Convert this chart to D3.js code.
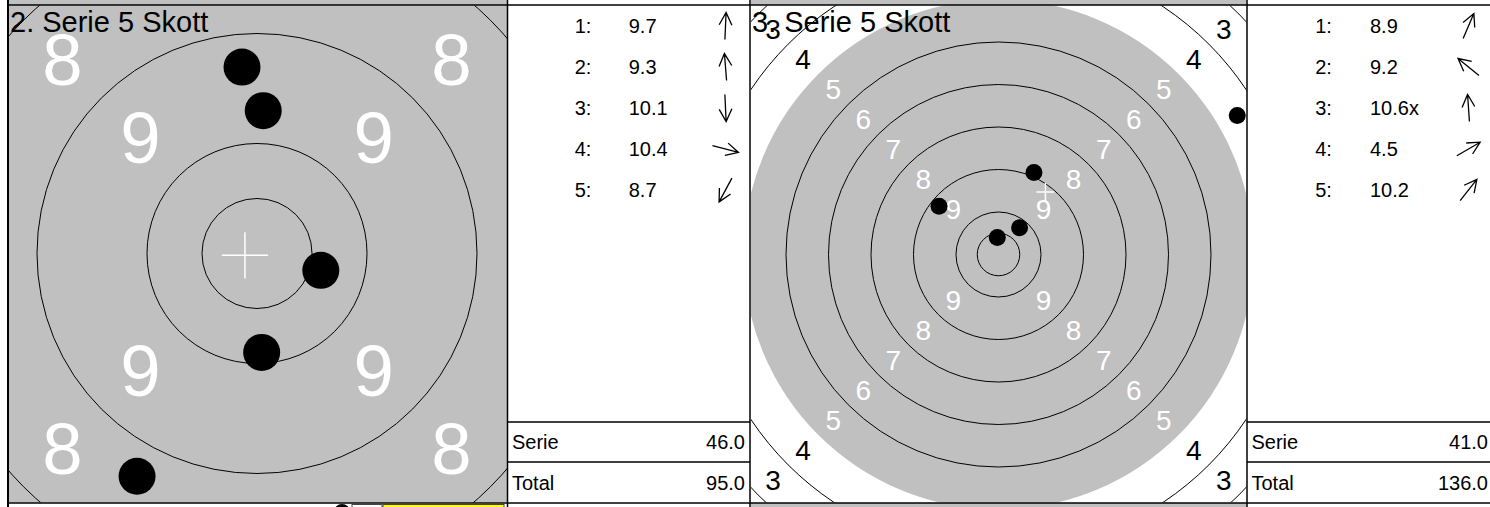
<!DOCTYPE html>
<html>
<head>
<meta charset="utf-8">
<script src="https://cdn.jsdelivr.net/npm/d3@7"></script>
<style>
  html, body { margin: 0; padding: 0; background: #fff; }
  svg { display: block; }
</style>
</head>
<body>
<svg id="chart" width="1490" height="507"></svg>
<script>
// ---- Data -------------------------------------------------------------
const seriesTitles = ["2. Serie 5 Skott", "3. Serie 5 Skott"];
const shotNumbers = [1, 2, 3, 4, 5];
// Decimal score of each shot
const serie2Scores = [9.7, 9.3, 10.1, 10.4, 8.7];
const serie3Scores = [8.9, 9.2, 10.6, 4.5, 10.2];
// Direction of each hit from the target centre (degrees, counter-clockwise from 3 o'clock)
const serie2Angles = [87.5, 94.6, 272.7, 345.2, 241.7];
const serie3Angles = [66.6, 141.0, 94.0, 30.2, 51.7];
// Running total carried in from series 1
const totalBefore = 49;
// Ring numbers printed on the target face
const ringNumbers = [9, 8, 7, 6, 5, 4, 3];
// Ring boundaries drawn as lines (10.5 = inner ten)
const ringLines = [10.5, 10, 9, 8, 7, 6, 4, 3, 2, 1];
// Lowest ring on the grey aiming area
const aimingRing = 5;
const summaryLabels = ["Serie", "Total"];

// ---- Layout -----------------------------------------------------------
const FONT = '"Liberation Sans", Arial, Helvetica, sans-serif';
const GREY = "#c0c0c0";
const rowTop = 5, rowBottom = 503;

const cells = [
  { x0: 8,   x1: 507.5, x2: 750,  cx: 257,   cy: 253.5, ring: 110,  shotR: 18.5 },
  { x0: 750, x1: 1247,  x2: 1493, cx: 998.5, cy: 254.5, ring: 42.5, shotR: 8.5 }
];

const series = [
  { title: seriesTitles[0], scores: serie2Scores, angles: serie2Angles },
  { title: seriesTitles[1], scores: serie3Scores, angles: serie3Angles }
];

const svg = d3.select("#chart").style("font-family", FONT);
const fmt1 = d3.format(".1f");
const rad = d => d * Math.PI / 180;

// strips of the neighbouring rows (above and below this row)
function drawNeighbourRows() {
  const g = svg.append("g");
  cells.forEach(c => {
    g.append("rect").attr("x", c.x0 + 1).attr("y", 0)
      .attr("width", c.x1 - c.x0 - 1.5).attr("height", rowTop).attr("fill", GREY);
  });
  // bottom strip: right target face and score boxes of the next row
  const c2 = cells[1];
  g.append("rect").attr("x", c2.x0 + 1).attr("y", rowBottom)
    .attr("width", c2.x1 - c2.x0 - 1.5).attr("height", 507 - rowBottom).attr("fill", GREY);
  const c1 = cells[0];
  g.append("circle").attr("cx", c1.x0 + 334).attr("cy", rowBottom + 9).attr("r", 8).attr("fill", "#000");
  g.append("rect").attr("x", c1.x0 + 344).attr("y", rowBottom + 1.5)
    .attr("width", 30).attr("height", 10).attr("fill", "#fff").attr("stroke", "#444").attr("stroke-width", 1);
  g.append("rect").attr("x", c1.x0 + 375).attr("y", rowBottom + 1.5)
    .attr("width", 121).attr("height", 10).attr("fill", "#ffff00").attr("stroke", "#444").attr("stroke-width", 1);
}

function drawTarget(s, c, idx) {
  const left = c.x0 + 1, right = c.x1 - 0.5, top = rowTop + 0.5, bottom = rowBottom - 0.5;
  const clipId = "face-clip-" + idx;
  svg.append("clipPath").attr("id", clipId)
    .append("rect").attr("x", left).attr("y", top)
    .attr("width", right - left).attr("height", bottom - top);

  const face = svg.append("g").attr("clip-path", `url(#${clipId})`);
  face.append("rect").attr("x", left).attr("y", top)
    .attr("width", right - left).attr("height", bottom - top).attr("fill", "#fff");

  // score -> distance from the centre (one ring width per point)
  const r = d3.scaleLinear().domain([11, 10]).range([0, c.ring]);
  const x = d3.scaleLinear().domain([0, 1]).range([c.cx, c.cx + 1]);
  const y = d3.scaleLinear().domain([0, 1]).range([c.cy, c.cy - 1]);

  face.append("circle").attr("cx", x(0)).attr("cy", y(0))
    .attr("r", r(aimingRing)).attr("fill", GREY);

  face.selectAll("circle.ring").data(ringLines).join("circle")
    .attr("class", "ring")
    .attr("cx", x(0)).attr("cy", y(0)).attr("r", d => r(d))
    .attr("fill", "none").attr("stroke", "#000").attr("stroke-width", 1);

  // ring numbers on the four diagonals
  const fs = c.ring * 0.66;
  const labelPts = [];
  ringNumbers.forEach(k => {
    [45, 135, 225, 315].forEach(a => {
      const d = r(k + 0.5);
      const px = x(d * Math.cos(rad(a))), py = y(d * Math.sin(rad(a)));
      if (px > left && px < right && py > top && py < bottom) labelPts.push({ k, px, py });
    });
  });
  face.selectAll("text.ringno").data(labelPts).join("text")
    .attr("class", "ringno")
    .attr("x", d => d.px).attr("y", d => d.py + fs * 0.358)
    .attr("text-anchor", "middle")
    .attr("font-size", fs)
    .attr("fill", d => d.k >= aimingRing ? "#fff" : "#000")
    .text(d => d.k);

  // hits
  const hits = s.scores.map((v, i) => {
    const d = r(v), a = rad(s.angles[i]);
    return { px: x(d * Math.cos(a)), py: y(d * Math.sin(a)) };
  });
  face.selectAll("circle.hit").data(hits).join("circle")
    .attr("class", "hit")
    .attr("cx", d => d.px).attr("cy", d => d.py).attr("r", c.shotR)
    .attr("fill", "#000");

  // mean point of impact
  const mx = d3.mean(hits, d => d.px), my = d3.mean(hits, d => d.py);
  const arm = c.ring * 0.21;
  const cross = face.append("g").attr("stroke", "#fff").attr("stroke-width", 1.5);
  cross.append("line").attr("x1", mx - arm).attr("x2", mx + arm).attr("y1", my).attr("y2", my);
  cross.append("line").attr("x1", mx).attr("x2", mx).attr("y1", my - arm).attr("y2", my + arm);

  svg.append("text")
    .attr("x", c.x0 + 2).attr("y", 32)
    .attr("font-size", 29).attr("fill", "#000")
    .text(s.title);
}

function drawTable(s, c) {
  const x0 = c.x1, w = c.x2 - c.x1;
  const g = svg.append("g").attr("font-size", 20).attr("fill", "#000");
  const rowY = d3.scalePoint().domain(shotNumbers).range([26, 190]);
  const base = 7.2;

  g.selectAll("text.no").data(shotNumbers).join("text")
    .attr("class", "no")
    .attr("x", x0 + w * 0.277).attr("y", d => rowY(d) + base)
    .text(d => d + ":");

  g.selectAll("text.val").data(s.scores).join("text")
    .attr("class", "val")
    .attr("x", x0 + w * 0.5).attr("y", (d, i) => rowY(shotNumbers[i]) + base)
    .text(d => fmt1(d) + (d >= 10.5 ? "x" : ""));

  // direction arrows
  const L = 27, head = 14, spread = 27;
  const ax = c.x2 - 24.5;
  s.angles.forEach((a, i) => {
    const cy = rowY(shotNumbers[i]);
    const ux = Math.cos(rad(a)), uy = -Math.sin(rad(a));
    const tx = ax + ux * L / 2, ty = cy + uy * L / 2;
    const bx = ax - ux * L / 2, by = cy - uy * L / 2;
    const h1 = rad(a + 180 + spread), h2 = rad(a + 180 - spread);
    const p = d3.path();
    p.moveTo(bx, by); p.lineTo(tx, ty);
    p.moveTo(tx + Math.cos(h1) * head, ty - Math.sin(h1) * head); p.lineTo(tx, ty);
    p.lineTo(tx + Math.cos(h2) * head, ty - Math.sin(h2) * head);
    g.append("path").attr("d", p.toString())
      .attr("fill", "none").attr("stroke", "#000").attr("stroke-width", 1.3);
  });

  // summary rows
  const sumY = d3.scalePoint().domain(summaryLabels).range([441.7, 482.7]);
  const sumVals = [s.serie, s.total];
  g.selectAll("line.sep").data([422, 462]).join("line")
    .attr("class", "sep")
    .attr("x1", x0).attr("x2", c.x2).attr("y1", d => d).attr("y2", d => d)
    .attr("stroke", "#000").attr("stroke-width", 1.5);
  g.selectAll("text.lab").data(summaryLabels).join("text")
    .attr("class", "lab")
    .attr("x", x0 + 4.5).attr("y", d => sumY(d) + base).text(d => d);
  g.selectAll("text.sum").data(sumVals).join("text")
    .attr("class", "sum")
    .attr("x", c.x2 - 5).attr("y", (d, i) => sumY(summaryLabels[i]) + base)
    .attr("text-anchor", "end").text(d => fmt1(d));
}

drawNeighbourRows();
let running = totalBefore;
series.forEach((s, i) => {
  s.serie = d3.sum(s.scores, v => Math.floor(v));
  running += s.serie;
  s.total = running;
  drawTarget(s, cells[i], i);
  drawTable(s, cells[i]);
});

// grid lines of the sheet
const grid = svg.append("g").attr("stroke", "#000").attr("stroke-width", 1.5);
[rowTop, rowBottom].forEach(yv => {
  grid.append("line").attr("x1", cells[0].x0).attr("x2", 1490).attr("y1", yv).attr("y2", yv);
});
grid.append("line").attr("x1", cells[0].x0).attr("x2", cells[0].x0)
  .attr("y1", 0).attr("y2", 507).attr("stroke-width", 2);
[cells[0].x1, cells[1].x0, cells[1].x1].forEach(xv => {
  grid.append("line").attr("x1", xv).attr("x2", xv).attr("y1", 0).attr("y2", 507);
});
</script>
</body>
</html>
